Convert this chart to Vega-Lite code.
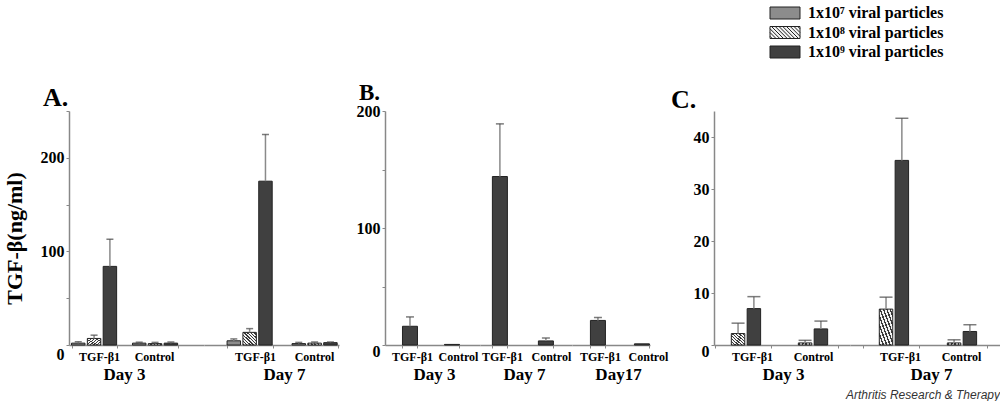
{
  "$schema": "https://vega.github.io/schema/vega-lite/v6.json",
  "background": "white",
  "padding": {"left": 3, "top": 5, "right": 0, "bottom": 0},
  "datasets": {
    "tgf": [
      {"panel": "A", "day": "Day 3", "group": "TGF-β1", "dose": "1x10⁷ viral particles", "mean": 2, "upper": 3.5},
      {"panel": "A", "day": "Day 3", "group": "TGF-β1", "dose": "1x10⁸ viral particles", "mean": 7, "upper": 10.5},
      {"panel": "A", "day": "Day 3", "group": "TGF-β1", "dose": "1x10⁹ viral particles", "mean": 84, "upper": 113},
      {"panel": "A", "day": "Day 3", "group": "Control", "dose": "1x10⁷ viral particles", "mean": 2, "upper": 3},
      {"panel": "A", "day": "Day 3", "group": "Control", "dose": "1x10⁸ viral particles", "mean": 1.5, "upper": 2.8},
      {"panel": "A", "day": "Day 3", "group": "Control", "dose": "1x10⁹ viral particles", "mean": 2, "upper": 3.2},
      {"panel": "A", "day": "Day 7", "group": "TGF-β1", "dose": "1x10⁷ viral particles", "mean": 4.5, "upper": 6.5},
      {"panel": "A", "day": "Day 7", "group": "TGF-β1", "dose": "1x10⁸ viral particles", "mean": 13.5, "upper": 17.5},
      {"panel": "A", "day": "Day 7", "group": "TGF-β1", "dose": "1x10⁹ viral particles", "mean": 175, "upper": 225},
      {"panel": "A", "day": "Day 7", "group": "Control", "dose": "1x10⁷ viral particles", "mean": 1.5, "upper": 2.8},
      {"panel": "A", "day": "Day 7", "group": "Control", "dose": "1x10⁸ viral particles", "mean": 2, "upper": 3.2},
      {"panel": "A", "day": "Day 7", "group": "Control", "dose": "1x10⁹ viral particles", "mean": 2.5, "upper": 3.3},
      {"panel": "B", "day": "Day 3", "group": "TGF-β1", "dose": "1x10⁹ viral particles", "mean": 16, "upper": 24},
      {"panel": "B", "day": "Day 3", "group": "Control", "dose": "1x10⁹ viral particles", "mean": 0.5, "upper": 0.5},
      {"panel": "B", "day": "Day 7", "group": "TGF-β1", "dose": "1x10⁹ viral particles", "mean": 144, "upper": 189},
      {"panel": "B", "day": "Day 7", "group": "Control", "dose": "1x10⁹ viral particles", "mean": 3.5, "upper": 6},
      {"panel": "B", "day": "Day17", "group": "TGF-β1", "dose": "1x10⁹ viral particles", "mean": 21, "upper": 23.5},
      {"panel": "B", "day": "Day17", "group": "Control", "dose": "1x10⁹ viral particles", "mean": 1, "upper": 1},
      {"panel": "C", "day": "Day 3", "group": "TGF-β1", "dose": "1x10⁸ viral particles", "mean": 2.2, "upper": 4.2},
      {"panel": "C", "day": "Day 3", "group": "TGF-β1", "dose": "1x10⁹ viral particles", "mean": 7, "upper": 9.3},
      {"panel": "C", "day": "Day 3", "group": "Control", "dose": "1x10⁸ viral particles", "mean": 0.4, "upper": 0.9},
      {"panel": "C", "day": "Day 3", "group": "Control", "dose": "1x10⁹ viral particles", "mean": 3.1, "upper": 4.6},
      {"panel": "C", "day": "Day 7", "group": "TGF-β1", "dose": "1x10⁸ viral particles", "mean": 6.9, "upper": 9.2},
      {"panel": "C", "day": "Day 7", "group": "TGF-β1", "dose": "1x10⁹ viral particles", "mean": 35.5, "upper": 43.6},
      {"panel": "C", "day": "Day 7", "group": "Control", "dose": "1x10⁸ viral particles", "mean": 0.4, "upper": 1},
      {"panel": "C", "day": "Day 7", "group": "Control", "dose": "1x10⁹ viral particles", "mean": 2.6, "upper": 3.9}
    ]
  },
  "data": {"name": "tgf"},
  "title": {"text": "Arthritis Research & Therapy", "orient": "bottom", "anchor": "end", "font": "Liberation Sans", "fontStyle": "italic", "fontWeight": "normal", "fontSize": 12, "color": "#333", "offset": 8, "dx": -3},
  "spacing": 17,
  "hconcat": [
    {
      "title": {"text": "A.", "anchor": "start", "fontSize": 26, "dx": 40, "offset": -8},
      "spacing": 0,
      "hconcat": [
        {
          "width": 135, "height": 234,
          "transform": [{"filter": "datum.panel == 'A' && datum.day == 'Day 3'"}],
          "encoding": {
            "x": {"field": "group", "type": "nominal", "scale": {"domain": ["TGF-β1", "Control"], "paddingInner": 0.26, "paddingOuter": 0.237, "align": 0.087}, "axis": {"title": "Day 3", "titleX": 55, "labelOffset": {"condition": {"test": "datum.value == 'TGF-β1'", "value": 5}, "value": -1}}},
            "xOffset": {"field": "dose", "type": "nominal", "scale": {"domain": ["1x10⁷ viral particles", "1x10⁸ viral particles", "1x10⁹ viral particles"], "paddingInner": 0.15, "paddingOuter": 0}}
          },
          "layer": [
            {"mark": {"type": "bar", "stroke": "#222", "strokeWidth": 1},
             "encoding": {
               "y": {"field": "mean", "type": "quantitative", "scale": {"domain": [0, 250], "nice": false}, "axis": {"values": [0, 50, 100, 150, 200, 250], "labelExpr": "datum.value % 100 == 0 ? datum.label : ''", "labelOverlap": false, "title": "TGF-β(ng/ml)", "titleFontSize": 22, "titlePadding": 14, "titleY": 127, "labelOffset": {"condition": {"test": "datum.value == 0", "value": 9}, "value": 0}}},
               "color": {"condition": {"test": "datum.dose == '1x10⁸ viral particles'", "value": {"gradient": "linear", "x1": 0, "y1": 1, "x2": 1, "y2": 0, "stops": [
                  {"offset": 0, "color": "#3a3a3a"}, {"offset": 0.056, "color": "#3a3a3a"}, {"offset": 0.056, "color": "#f4f4f4"}, {"offset": 0.125, "color": "#f4f4f4"},
                  {"offset": 0.125, "color": "#3a3a3a"}, {"offset": 0.181, "color": "#3a3a3a"}, {"offset": 0.181, "color": "#f4f4f4"}, {"offset": 0.25, "color": "#f4f4f4"},
                  {"offset": 0.25, "color": "#3a3a3a"}, {"offset": 0.306, "color": "#3a3a3a"}, {"offset": 0.306, "color": "#f4f4f4"}, {"offset": 0.375, "color": "#f4f4f4"},
                  {"offset": 0.375, "color": "#3a3a3a"}, {"offset": 0.431, "color": "#3a3a3a"}, {"offset": 0.431, "color": "#f4f4f4"}, {"offset": 0.5, "color": "#f4f4f4"},
                  {"offset": 0.5, "color": "#3a3a3a"}, {"offset": 0.556, "color": "#3a3a3a"}, {"offset": 0.556, "color": "#f4f4f4"}, {"offset": 0.625, "color": "#f4f4f4"},
                  {"offset": 0.625, "color": "#3a3a3a"}, {"offset": 0.681, "color": "#3a3a3a"}, {"offset": 0.681, "color": "#f4f4f4"}, {"offset": 0.75, "color": "#f4f4f4"},
                  {"offset": 0.75, "color": "#3a3a3a"}, {"offset": 0.806, "color": "#3a3a3a"}, {"offset": 0.806, "color": "#f4f4f4"}, {"offset": 0.875, "color": "#f4f4f4"},
                  {"offset": 0.875, "color": "#3a3a3a"}, {"offset": 0.931, "color": "#3a3a3a"}, {"offset": 0.931, "color": "#f4f4f4"}, {"offset": 1, "color": "#f4f4f4"}]}},
                 "field": "dose", "type": "nominal", "scale": {"domain": ["1x10⁷ viral particles", "1x10⁸ viral particles", "1x10⁹ viral particles"], "range": ["#8c8c8c", "#f4f4f4", "#404040"]}, "legend": {"title": null}}
             }},
            {"transform": [{"filter": "datum.upper > datum.mean"}], "mark": {"type": "rule", "color": "#8a8a8a", "strokeWidth": 1.5},
             "encoding": {"y": {"field": "mean", "type": "quantitative", "scale": {"domain": [0, 250], "nice": false}}, "y2": {"field": "upper"}}},
            {"transform": [{"filter": "datum.upper > datum.mean"}], "mark": {"type": "tick", "size": 7, "thickness": 1.5, "color": "#444"},
             "encoding": {"y": {"field": "upper", "type": "quantitative", "scale": {"domain": [0, 250], "nice": false}}}},
            {"transform": [{"filter": "false"}], "mark": {"type": "point", "filled": true, "stroke": "#222", "strokeWidth": 1, "opacity": 1},
             "encoding": {
               "color": {"field": "dose", "type": "nominal", "scale": {"domain": ["1x10⁷ viral particles", "1x10⁸ viral particles", "1x10⁹ viral particles"], "range": ["#8c8c8c", "#f4f4f4", "#404040"]}, "legend": {"title": null}},
               "shape": {"field": "dose", "type": "nominal", "scale": {"domain": ["1x10⁷ viral particles", "1x10⁸ viral particles", "1x10⁹ viral particles"], "range": ["M-2,-0.8H2V0.8H-2Z", "M-2,-0.8H2V0.8H-2Z M-2,0.5L-1.7,0.8 M-2,0L-1.2,0.8 M-2,-0.5L-0.7,0.8 M-1.8,-0.8L-0.2,0.8 M-1.3,-0.8L0.3,0.8 M-0.8,-0.8L0.8,0.8 M-0.3,-0.8L1.3,0.8 M0.2,-0.8L1.8,0.8 M0.7,-0.8L2,0.5 M1.2,-0.8L2,0 M1.7,-0.8L2,-0.5", "M-2,-0.8H2V0.8H-2Z"]}, "legend": {"title": null}}
             }}
          ]
        },
        {
          "width": 135, "height": 234,
          "transform": [{"filter": "datum.panel == 'A' && datum.day == 'Day 7'"}],
          "encoding": {
            "x": {"field": "group", "type": "nominal", "scale": {"domain": ["TGF-β1", "Control"], "paddingInner": 0.292, "paddingOuter": 0.185, "align": 0.96}, "axis": {"title": "Day 7", "titleX": 80, "labelOffset": {"condition": {"test": "datum.value == 'TGF-β1'", "value": 5}, "value": -1}}},
            "xOffset": {"field": "dose", "type": "nominal", "scale": {"domain": ["1x10⁷ viral particles", "1x10⁸ viral particles", "1x10⁹ viral particles"], "paddingInner": 0.15, "paddingOuter": 0}}
          },
          "layer": [
            {"mark": {"type": "bar", "stroke": "#222", "strokeWidth": 1},
             "encoding": {
               "y": {"field": "mean", "type": "quantitative", "scale": {"domain": [0, 250], "nice": false}, "axis": null},
               "color": {"condition": {"test": "datum.dose == '1x10⁸ viral particles'", "value": {"gradient": "linear", "x1": 0, "y1": 1, "x2": 1, "y2": 0, "stops": [
                  {"offset": 0, "color": "#3a3a3a"}, {"offset": 0.056, "color": "#3a3a3a"}, {"offset": 0.056, "color": "#f4f4f4"}, {"offset": 0.125, "color": "#f4f4f4"},
                  {"offset": 0.125, "color": "#3a3a3a"}, {"offset": 0.181, "color": "#3a3a3a"}, {"offset": 0.181, "color": "#f4f4f4"}, {"offset": 0.25, "color": "#f4f4f4"},
                  {"offset": 0.25, "color": "#3a3a3a"}, {"offset": 0.306, "color": "#3a3a3a"}, {"offset": 0.306, "color": "#f4f4f4"}, {"offset": 0.375, "color": "#f4f4f4"},
                  {"offset": 0.375, "color": "#3a3a3a"}, {"offset": 0.431, "color": "#3a3a3a"}, {"offset": 0.431, "color": "#f4f4f4"}, {"offset": 0.5, "color": "#f4f4f4"},
                  {"offset": 0.5, "color": "#3a3a3a"}, {"offset": 0.556, "color": "#3a3a3a"}, {"offset": 0.556, "color": "#f4f4f4"}, {"offset": 0.625, "color": "#f4f4f4"},
                  {"offset": 0.625, "color": "#3a3a3a"}, {"offset": 0.681, "color": "#3a3a3a"}, {"offset": 0.681, "color": "#f4f4f4"}, {"offset": 0.75, "color": "#f4f4f4"},
                  {"offset": 0.75, "color": "#3a3a3a"}, {"offset": 0.806, "color": "#3a3a3a"}, {"offset": 0.806, "color": "#f4f4f4"}, {"offset": 0.875, "color": "#f4f4f4"},
                  {"offset": 0.875, "color": "#3a3a3a"}, {"offset": 0.931, "color": "#3a3a3a"}, {"offset": 0.931, "color": "#f4f4f4"}, {"offset": 1, "color": "#f4f4f4"}]}},
                 "field": "dose", "type": "nominal", "scale": {"domain": ["1x10⁷ viral particles", "1x10⁸ viral particles", "1x10⁹ viral particles"], "range": ["#8c8c8c", "#f4f4f4", "#404040"]}, "legend": null}
             }},
            {"transform": [{"filter": "datum.upper > datum.mean"}], "mark": {"type": "rule", "color": "#8a8a8a", "strokeWidth": 1.5},
             "encoding": {"y": {"field": "mean", "type": "quantitative", "scale": {"domain": [0, 250], "nice": false}, "axis": null}, "y2": {"field": "upper"}}},
            {"transform": [{"filter": "datum.upper > datum.mean"}], "mark": {"type": "tick", "size": 7, "thickness": 1.5, "color": "#444"},
             "encoding": {"y": {"field": "upper", "type": "quantitative", "scale": {"domain": [0, 250], "nice": false}, "axis": null}}}
          ]
        }
      ]
    },
    {
      "spacing": 3,
      "hconcat": [
        {
          "title": {"text": "B.", "anchor": "start", "fontSize": 23, "dx": 3, "offset": -2},
          "spacing": 0,
          "hconcat": [
            {
              "width": 95, "height": 234,
              "transform": [{"filter": "datum.panel == 'B' && datum.day == 'Day 3'"}],
              "encoding": {
                "x": {"field": "group", "type": "nominal", "scale": {"domain": ["TGF-β1", "Control"], "paddingInner": 0.643, "paddingOuter": 0.452, "align": 0.46}, "axis": {"title": "Day 3", "titleX": 49, "labelOffset": {"condition": {"test": "datum.value == 'TGF-β1'", "value": 2}, "value": 6}}}
              },
              "layer": [
                {"mark": {"type": "bar", "stroke": "#222", "strokeWidth": 1},
                 "encoding": {
                   "y": {"field": "mean", "type": "quantitative", "scale": {"domain": [0, 200], "nice": false}, "axis": {"values": [0, 50, 100, 150, 200], "labelExpr": "datum.value % 100 == 0 ? datum.label : ''", "labelOverlap": false, "title": null, "labelOffset": {"condition": {"test": "datum.value == 0", "value": 6}, "value": 0}}},
                   "color": {"field": "dose", "type": "nominal", "scale": {"domain": ["1x10⁷ viral particles", "1x10⁸ viral particles", "1x10⁹ viral particles"], "range": ["#8c8c8c", "#f4f4f4", "#404040"]}, "legend": null}
                 }},
                {"transform": [{"filter": "datum.upper > datum.mean"}], "mark": {"type": "rule", "color": "#8a8a8a", "strokeWidth": 1.5},
                 "encoding": {"y": {"field": "mean", "type": "quantitative", "scale": {"domain": [0, 200], "nice": false}}, "y2": {"field": "upper"}}},
                {"transform": [{"filter": "datum.upper > datum.mean"}], "mark": {"type": "tick", "size": 8, "thickness": 1.5, "color": "#444"},
                 "encoding": {"y": {"field": "upper", "type": "quantitative", "scale": {"domain": [0, 200], "nice": false}}}}
              ]
            },
            {
              "width": 92, "height": 234,
              "transform": [{"filter": "datum.panel == 'B' && datum.day == 'Day 7'"}],
              "encoding": {
                "x": {"field": "group", "type": "nominal", "scale": {"domain": ["TGF-β1", "Control"], "paddingInner": 0.674, "paddingOuter": 0.337, "align": 0.4}, "axis": {"title": "Day 7", "titleX": 44, "labelOffset": {"condition": {"test": "datum.value == 'TGF-β1'", "value": 2}, "value": 5}}}
              },
              "layer": [
                {"mark": {"type": "bar", "stroke": "#222", "strokeWidth": 1},
                 "encoding": {
                   "y": {"field": "mean", "type": "quantitative", "scale": {"domain": [0, 200], "nice": false}, "axis": null},
                   "color": {"field": "dose", "type": "nominal", "scale": {"domain": ["1x10⁷ viral particles", "1x10⁸ viral particles", "1x10⁹ viral particles"], "range": ["#8c8c8c", "#f4f4f4", "#404040"]}, "legend": null}
                 }},
                {"transform": [{"filter": "datum.upper > datum.mean"}], "mark": {"type": "rule", "color": "#8a8a8a", "strokeWidth": 1.5},
                 "encoding": {"y": {"field": "mean", "type": "quantitative", "scale": {"domain": [0, 200], "nice": false}, "axis": null}, "y2": {"field": "upper"}}},
                {"transform": [{"filter": "datum.upper > datum.mean"}], "mark": {"type": "tick", "size": 8, "thickness": 1.5, "color": "#444"},
                 "encoding": {"y": {"field": "upper", "type": "quantitative", "scale": {"domain": [0, 200], "nice": false}, "axis": null}}}
              ]
            },
            {
              "width": 78, "height": 234,
              "transform": [{"filter": "datum.panel == 'B' && datum.day == 'Day17'"}],
              "encoding": {
                "x": {"field": "group", "type": "nominal", "scale": {"domain": ["TGF-β1", "Control"], "paddingInner": 0.659, "paddingOuter": 0.216, "align": 0.97}, "axis": {"title": "Day17", "titleX": 46, "labelOffset": {"condition": {"test": "datum.value == 'TGF-β1'", "value": 2}, "value": 6}}}
              },
              "layer": [
                {"mark": {"type": "bar", "stroke": "#222", "strokeWidth": 1},
                 "encoding": {
                   "y": {"field": "mean", "type": "quantitative", "scale": {"domain": [0, 200], "nice": false}, "axis": null},
                   "color": {"field": "dose", "type": "nominal", "scale": {"domain": ["1x10⁷ viral particles", "1x10⁸ viral particles", "1x10⁹ viral particles"], "range": ["#8c8c8c", "#f4f4f4", "#404040"]}, "legend": null}
                 }},
                {"transform": [{"filter": "datum.upper > datum.mean"}], "mark": {"type": "rule", "color": "#8a8a8a", "strokeWidth": 1.5},
                 "encoding": {"y": {"field": "mean", "type": "quantitative", "scale": {"domain": [0, 200], "nice": false}, "axis": null}, "y2": {"field": "upper"}}},
                {"transform": [{"filter": "datum.upper > datum.mean"}], "mark": {"type": "tick", "size": 8, "thickness": 1.5, "color": "#444"},
                 "encoding": {"y": {"field": "upper", "type": "quantitative", "scale": {"domain": [0, 200], "nice": false}, "axis": null}}}
              ]
            }
          ]
        },
        {
          "title": {"text": "C.", "anchor": "start", "fontSize": 26, "dx": -22, "offset": -2},
          "spacing": 0,
          "hconcat": [
            {
              "width": 136, "height": 234,
              "transform": [{"filter": "datum.panel == 'C' && datum.day == 'Day 3'"}],
              "encoding": {
                "x": {"field": "group", "type": "nominal", "scale": {"domain": ["TGF-β1", "Control"], "paddingInner": 0.179, "paddingOuter": 0.104, "align": 0.107}, "axis": {"title": "Day 3", "titleX": 69, "labelOffset": {"condition": {"test": "datum.value == 'TGF-β1'", "value": 9}, "value": 3}}},
                "xOffset": {"field": "dose", "type": "nominal", "scale": {"domain": ["1x10⁸ viral particles", "1x10⁹ viral particles"], "paddingInner": 0.1, "paddingOuter": 0}}
              },
              "layer": [
                {"mark": {"type": "bar", "stroke": "#222", "strokeWidth": 1},
                 "encoding": {
                   "y": {"field": "mean", "type": "quantitative", "scale": {"domain": [0, 45], "nice": false}, "axis": {"values": [0, 5, 10, 15, 20, 25, 30, 35, 40, 45], "labelExpr": "datum.value % 10 == 0 ? datum.label : ''", "labelOverlap": false, "title": null, "labelOffset": {"condition": {"test": "datum.value == 0", "value": 6}, "value": 0}}},
                   "color": {"condition": {"test": "datum.dose == '1x10⁸ viral particles'", "value": {"gradient": "linear", "x1": 0, "y1": 1, "x2": 1, "y2": 0, "stops": [
                      {"offset": 0, "color": "#3a3a3a"}, {"offset": 0.056, "color": "#3a3a3a"}, {"offset": 0.056, "color": "#f4f4f4"}, {"offset": 0.125, "color": "#f4f4f4"},
                      {"offset": 0.125, "color": "#3a3a3a"}, {"offset": 0.181, "color": "#3a3a3a"}, {"offset": 0.181, "color": "#f4f4f4"}, {"offset": 0.25, "color": "#f4f4f4"},
                      {"offset": 0.25, "color": "#3a3a3a"}, {"offset": 0.306, "color": "#3a3a3a"}, {"offset": 0.306, "color": "#f4f4f4"}, {"offset": 0.375, "color": "#f4f4f4"},
                      {"offset": 0.375, "color": "#3a3a3a"}, {"offset": 0.431, "color": "#3a3a3a"}, {"offset": 0.431, "color": "#f4f4f4"}, {"offset": 0.5, "color": "#f4f4f4"},
                      {"offset": 0.5, "color": "#3a3a3a"}, {"offset": 0.556, "color": "#3a3a3a"}, {"offset": 0.556, "color": "#f4f4f4"}, {"offset": 0.625, "color": "#f4f4f4"},
                      {"offset": 0.625, "color": "#3a3a3a"}, {"offset": 0.681, "color": "#3a3a3a"}, {"offset": 0.681, "color": "#f4f4f4"}, {"offset": 0.75, "color": "#f4f4f4"},
                      {"offset": 0.75, "color": "#3a3a3a"}, {"offset": 0.806, "color": "#3a3a3a"}, {"offset": 0.806, "color": "#f4f4f4"}, {"offset": 0.875, "color": "#f4f4f4"},
                      {"offset": 0.875, "color": "#3a3a3a"}, {"offset": 0.931, "color": "#3a3a3a"}, {"offset": 0.931, "color": "#f4f4f4"}, {"offset": 1, "color": "#f4f4f4"}]}},
                     "field": "dose", "type": "nominal", "scale": {"domain": ["1x10⁷ viral particles", "1x10⁸ viral particles", "1x10⁹ viral particles"], "range": ["#8c8c8c", "#f4f4f4", "#404040"]}, "legend": null}
                 }},
                {"transform": [{"filter": "datum.upper > datum.mean"}], "mark": {"type": "rule", "color": "#8a8a8a", "strokeWidth": 1.5},
                 "encoding": {"y": {"field": "mean", "type": "quantitative", "scale": {"domain": [0, 45], "nice": false}}, "y2": {"field": "upper"}}},
                {"transform": [{"filter": "datum.upper > datum.mean"}], "mark": {"type": "tick", "size": 13, "thickness": 1.5, "color": "#444"},
                 "encoding": {"y": {"field": "upper", "type": "quantitative", "scale": {"domain": [0, 45], "nice": false}}}}
              ]
            },
            {
              "width": 153, "height": 234,
              "transform": [{"filter": "datum.panel == 'C' && datum.day == 'Day 7'"}],
              "encoding": {
                "x": {"field": "group", "type": "nominal", "scale": {"domain": ["TGF-β1", "Control"], "paddingInner": 0.191, "paddingOuter": 0.22, "align": 0.45}, "axis": {"title": "Day 7", "titleX": 81, "labelOffset": {"condition": {"test": "datum.value == 'TGF-β1'", "value": 9}, "value": 2}}},
                "xOffset": {"field": "dose", "type": "nominal", "scale": {"domain": ["1x10⁸ viral particles", "1x10⁹ viral particles"], "paddingInner": 0.1, "paddingOuter": 0}}
              },
              "layer": [
                {"mark": {"type": "bar", "stroke": "#222", "strokeWidth": 1},
                 "encoding": {
                   "y": {"field": "mean", "type": "quantitative", "scale": {"domain": [0, 45], "nice": false}, "axis": null},
                   "color": {"condition": {"test": "datum.dose == '1x10⁸ viral particles'", "value": {"gradient": "linear", "x1": 0, "y1": 1, "x2": 1, "y2": 0, "stops": [
                      {"offset": 0, "color": "#3a3a3a"}, {"offset": 0.056, "color": "#3a3a3a"}, {"offset": 0.056, "color": "#f4f4f4"}, {"offset": 0.125, "color": "#f4f4f4"},
                      {"offset": 0.125, "color": "#3a3a3a"}, {"offset": 0.181, "color": "#3a3a3a"}, {"offset": 0.181, "color": "#f4f4f4"}, {"offset": 0.25, "color": "#f4f4f4"},
                      {"offset": 0.25, "color": "#3a3a3a"}, {"offset": 0.306, "color": "#3a3a3a"}, {"offset": 0.306, "color": "#f4f4f4"}, {"offset": 0.375, "color": "#f4f4f4"},
                      {"offset": 0.375, "color": "#3a3a3a"}, {"offset": 0.431, "color": "#3a3a3a"}, {"offset": 0.431, "color": "#f4f4f4"}, {"offset": 0.5, "color": "#f4f4f4"},
                      {"offset": 0.5, "color": "#3a3a3a"}, {"offset": 0.556, "color": "#3a3a3a"}, {"offset": 0.556, "color": "#f4f4f4"}, {"offset": 0.625, "color": "#f4f4f4"},
                      {"offset": 0.625, "color": "#3a3a3a"}, {"offset": 0.681, "color": "#3a3a3a"}, {"offset": 0.681, "color": "#f4f4f4"}, {"offset": 0.75, "color": "#f4f4f4"},
                      {"offset": 0.75, "color": "#3a3a3a"}, {"offset": 0.806, "color": "#3a3a3a"}, {"offset": 0.806, "color": "#f4f4f4"}, {"offset": 0.875, "color": "#f4f4f4"},
                      {"offset": 0.875, "color": "#3a3a3a"}, {"offset": 0.931, "color": "#3a3a3a"}, {"offset": 0.931, "color": "#f4f4f4"}, {"offset": 1, "color": "#f4f4f4"}]}},
                     "field": "dose", "type": "nominal", "scale": {"domain": ["1x10⁷ viral particles", "1x10⁸ viral particles", "1x10⁹ viral particles"], "range": ["#8c8c8c", "#f4f4f4", "#404040"]}, "legend": null}
                 }},
                {"transform": [{"filter": "datum.upper > datum.mean"}], "mark": {"type": "rule", "color": "#8a8a8a", "strokeWidth": 1.5},
                 "encoding": {"y": {"field": "mean", "type": "quantitative", "scale": {"domain": [0, 45], "nice": false}, "axis": null}, "y2": {"field": "upper"}}},
                {"transform": [{"filter": "datum.upper > datum.mean"}], "mark": {"type": "tick", "size": 13, "thickness": 1.5, "color": "#444"},
                 "encoding": {"y": {"field": "upper", "type": "quantitative", "scale": {"domain": [0, 45], "nice": false}, "axis": null}}}
              ]
            }
          ]
        }
      ]
    }
  ],
  "config": {
    "view": {"stroke": null},
    "font": "Liberation Serif",
    "axis": {"domainColor": "#888", "tickColor": "#888", "labelColor": "#000", "titleColor": "#000", "labelFont": "Liberation Serif", "titleFont": "Liberation Serif", "labelFontWeight": "bold", "titleFontWeight": "bold", "grid": false, "tickSize": 3, "domainWidth": 1.5},
    "axisX": {"labelFontSize": 12, "titleFontSize": 17, "labelPadding": 3, "titlePadding": 4, "tickBand": "extent", "labelAngle": 0},
    "axisY": {"labelFontSize": 16, "labelPadding": 2, "titleFontSize": 19},
    "legend": {"orient": "none", "legendX": 708, "legendY": -106, "labelFont": "Liberation Serif", "labelFontWeight": "bold", "labelFontSize": 16, "labelColor": "#000", "symbolSize": 225, "symbolStrokeColor": "#222", "symbolStrokeWidth": 1, "labelOffset": 15, "rowPadding": 3.5, "padding": 0},
    "title": {"font": "Liberation Serif", "fontWeight": "bold", "color": "#000"}
  }
}
